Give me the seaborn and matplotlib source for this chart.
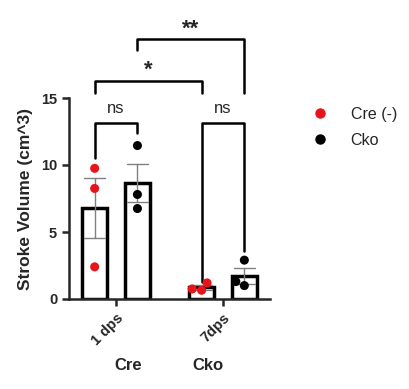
import matplotlib
matplotlib.use('Agg')
import matplotlib.pyplot as plt
import seaborn as sns
import pandas as pd
from matplotlib.lines import Line2D

# values
days = ["1 dps", "7dps"]
groups = ["Cre (-)", "Cko"]
cre_1dps = [9.75, 8.25, 2.4]
cko_1dps = [11.45, 7.8, 6.75]
cre_7dps = [0.65, 1.2, 0.75]
cko_7dps = [2.9, 1.0, 1.3]

# significance brackets: (x1, x2, top, left leg end, right leg end, label)
brackets = [
    ((0, 0), (0, 1), 13.1, 10.5, 12.4, "ns"),
    ((1, 0), (1, 1), 13.1, 1.3, 3.6, "ns"),
    ((0, 0), (1, 0), 16.3, 15.4, 15.4, "*"),
    ((0, 1), (1, 1), 19.4, 18.6, 15.4, "**"),
]

rows = []
for day, vals in zip(days, [cre_1dps, cre_7dps]):
    rows += [{"day": day, "group": groups[0], "value": v} for v in vals]
for day, vals in zip(days, [cko_1dps, cko_7dps]):
    rows += [{"day": day, "group": groups[1], "value": v} for v in vals]
df = pd.DataFrame(rows)

sns.set_style("ticks")
plt.rcParams['font.family'] = ['Liberation Sans', 'DejaVu Sans']

fig = plt.figure(figsize = (4.1, 3.89), dpi = 100)
ax = fig.add_axes([69 / 410, 90 / 389, 201 / 410, 201 / 389])

sns.barplot(data = df, x = "day", y = "value", hue = "group", order = days,
            hue_order = groups, palette = ["white", "white"], edgecolor = "black",
            linewidth = 2.5, gap = 0.4, errorbar = "se", capsize = 0.4,
            err_kws = {"color": "#808080", "linewidth": 1}, legend = False, ax = ax)
sns.swarmplot(data = df, x = "day", y = "value", hue = "group", order = days,
              hue_order = groups, palette = ["#e8141b", "black"], dodge = True,
              size = 6.5, ax = ax, legend = False, zorder = 5)

ax.set_xlim(-0.44, 1.44)
ax.set_ylim(0, 15)
ax.set_yticks([0, 5, 10, 15])
ax.spines['left'].set_bounds(0, 15)
sns.despine(ax = ax)
for s in ['left', 'bottom']:
    ax.spines[s].set_linewidth(1.8)
ax.tick_params(width = 1.8, length = 5, labelsize = 10.5)
for lab in ax.get_yticklabels():
    lab.set_fontweight('bold')
ax.set_xticks([0, 1])
ax.set_xticklabels(days, rotation = 45, ha = 'right', rotation_mode = 'anchor',
                   fontsize = 10.5, fontweight = 'bold')
ax.set_xlabel("")
ax.set_ylabel("Stroke Volume (cm^3)", fontsize = 12.5, fontweight = 'bold', labelpad = 6)

# significance brackets
off = 0.2
for (c1, h1), (c2, h2), top, y1, y2, label in brackets:
    xa = c1 + (h1 - 0.5) * 2 * off
    xb = c2 + (h2 - 0.5) * 2 * off
    ax.plot([xa, xa, xb, xb], [y1, top, top, y2], color = 'black',
            linewidth = 1.8, clip_on = False)
    if label == "ns":
        ax.text((xa + xb) / 2, top + 1.15, label, ha = 'center', va = 'center',
                fontsize = 12, clip_on = False)
    else:
        ax.text((xa + xb) / 2, top + 0.75, label, ha = 'center', va = 'center',
                fontsize = 16, fontweight = 'bold', clip_on = False)

# group names under the axis
trans = ax.get_xaxis_transform()
ax.text(0.11, -0.33, "Cre", transform = trans, ha = 'center', va = 'center',
        fontsize = 12, fontweight = 'bold')
ax.text(0.86, -0.33, "Cko", transform = trans, ha = 'center', va = 'center',
        fontsize = 12, fontweight = 'bold')

handles = [Line2D([], [], marker = 'o', linestyle = '', color = c, markersize = 6.5)
           for c in ["#e8141b", "black"]]
fig.legend(handles, groups, loc = 'upper left', bbox_to_anchor = (0.707, 0.763),
           frameon = False, fontsize = 11.5, handletextpad = 0.9, labelspacing = 0.7)

fig.savefig("out.png", dpi = 100)
plt.close(fig)
